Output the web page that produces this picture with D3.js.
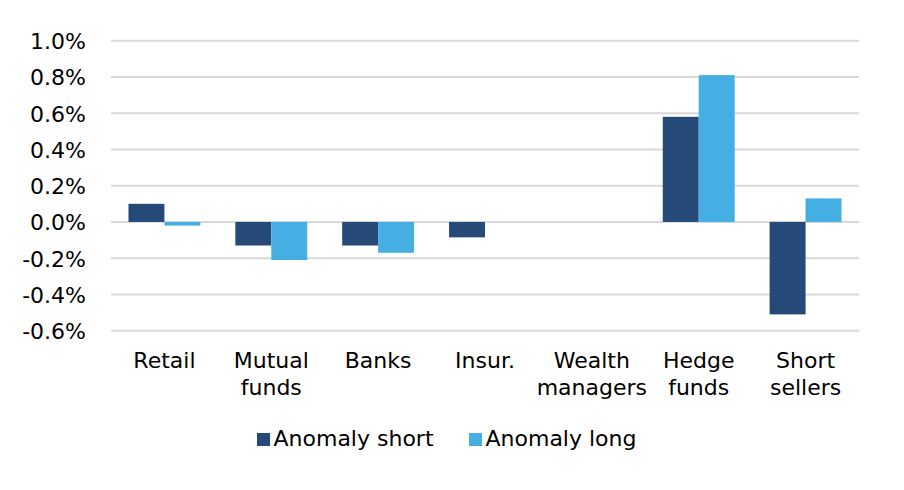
<!DOCTYPE html>
<html><head><meta charset="utf-8">
<script src="https://cdn.jsdelivr.net/npm/d3@7"></script>
<style>body{margin:0;background:#fff}svg{display:block}text{font-family:"DejaVu Sans",Verdana,sans-serif;fill:#000}</style>
</head><body>
<svg id="c" width="904" height="490"></svg>
<script>
const categories = [["Retail"],["Mutual","funds"],["Banks"],["Insur."],["Wealth","managers"],["Hedge","funds"],["Short","sellers"]];
const seriesNames = ["Anomaly short","Anomaly long"];
const anomalyShort = [0.10,-0.13,-0.13,-0.085,0,0.58,-0.51];
const anomalyLong = [-0.02,-0.21,-0.17,0,0,0.81,0.13];
const yTicks = [-0.6,-0.4,-0.2,0.0,0.2,0.4,0.6,0.8,1.0];
const colors = ["#254a78","#45aee2"];

(function(){
const svg = d3.select("#c");
const mL = 111, mR = 859, mT = 40.7, mB = 330.7;
const x = d3.scaleBand().domain(d3.range(categories.length)).range([mL,mR]).paddingInner(0.327).paddingOuter(0.1635);
const xs = d3.scaleBand().domain([0,1]).range([0,x.bandwidth()]);
const y = d3.scaleLinear().domain([-0.6,1.0]).range([mB,mT]);

const fs = 22;
svg.append("g").selectAll("line").data(yTicks).join("line")
  .attr("x1",mL).attr("x2",mR).attr("y1",d=>y(d)).attr("y2",d=>y(d))
  .attr("stroke","#d9d9d9").attr("stroke-width",2);
const yAxis = d3.axisLeft(y).tickValues(yTicks).tickFormat(d=>d3.format(".1f")(d).replace("\u2212","-")+"%").tickSize(0).tickPadding(0);
const ga = svg.append("g").attr("transform",`translate(86,0)`).call(yAxis);
ga.select(".domain").remove();
ga.selectAll("text").attr("font-size",fs).attr("font-family","DejaVu Sans").attr("fill","#000").attr("dy","0.36em");

const data = [anomalyShort, anomalyLong];
data.forEach((vals,si)=>{
  svg.append("g").selectAll("rect").data(vals).join("rect")
    .attr("x",(d,i)=>x(i)+xs(si)).attr("width",xs.bandwidth())
    .attr("y",d=>y(Math.max(0,d))).attr("height",d=>Math.abs(y(d)-y(0)))
    .attr("fill",colors[si]);
});

const gl = svg.append("g");
categories.forEach((lines,i)=>{
  const cx = x(i)+x.bandwidth()/2;
  const t = gl.append("text").attr("text-anchor","middle").attr("font-size",fs)
    .attr("x",cx).attr("y",368);
  lines.forEach((l,j)=>t.append("tspan").attr("x",cx).attr("dy",j?27:0).text(l));
});

const lg = svg.append("g");
const lx = [257,469];
seriesNames.forEach((n,i)=>{
  lg.append("rect").attr("x",lx[i]).attr("y",433).attr("width",13).attr("height",13).attr("fill",colors[i]);
  lg.append("text").attr("x",lx[i]+16.5).attr("y",446).attr("font-size",fs).text(n);
});
})();
</script>
</body></html>
